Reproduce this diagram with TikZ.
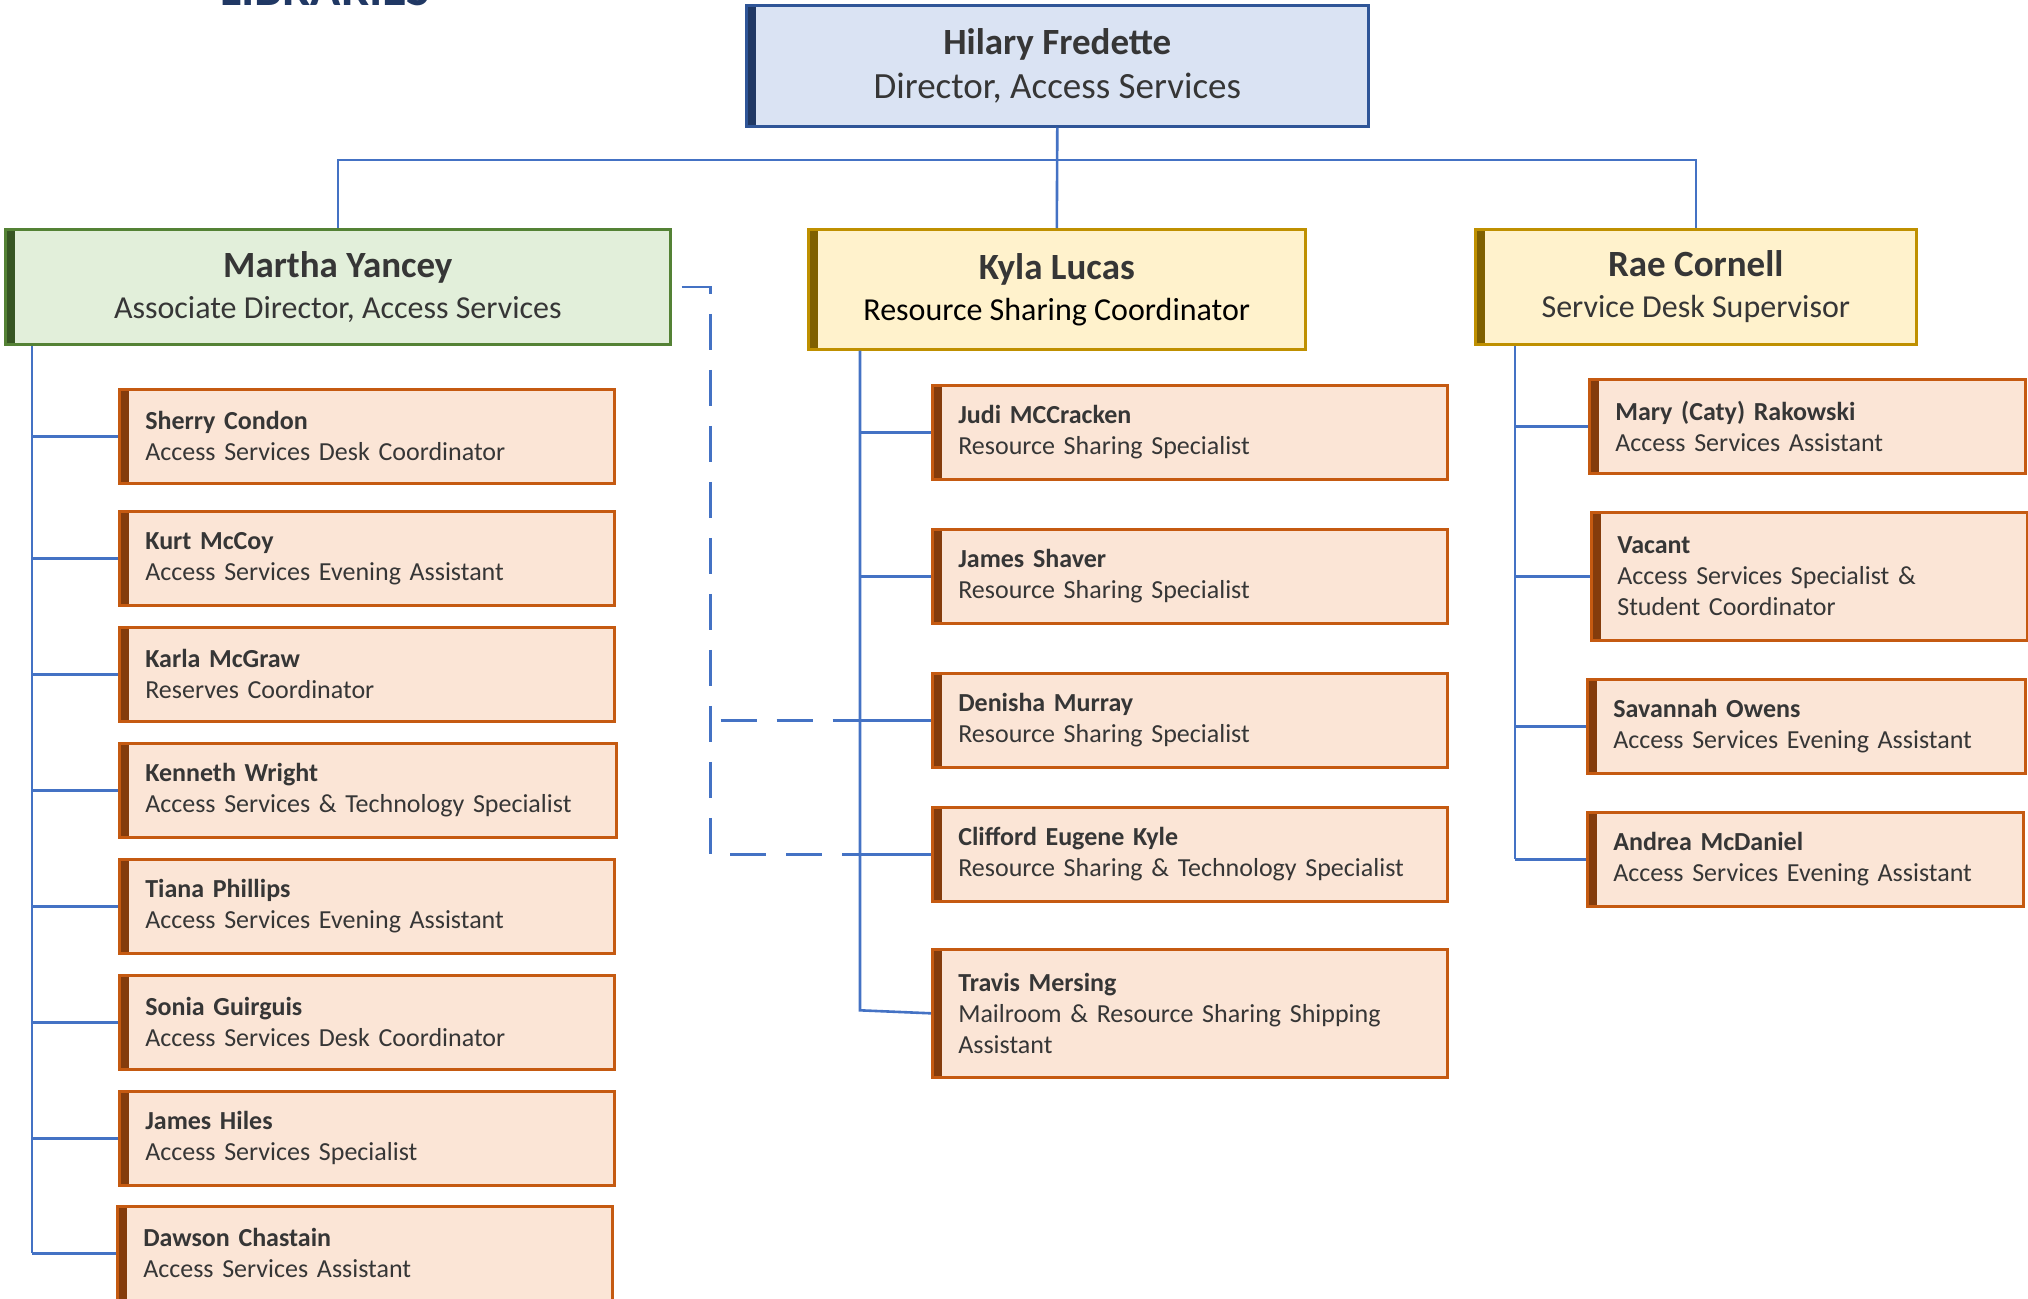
\documentclass[tikz,border=0pt]{standalone}
\usepackage{fontspec}
\setmainfont{Carlito}

\definecolor{wireblue}{HTML}{4472C4}
\definecolor{inkgrey}{HTML}{363636}
\definecolor{dirfill}{HTML}{DAE3F3}
\definecolor{dirline}{HTML}{2F5597}
\definecolor{dirbar}{HTML}{203864}
\definecolor{assocfill}{HTML}{E2EFDA}
\definecolor{assocline}{HTML}{548235}
\definecolor{assocbar}{HTML}{375623}
\definecolor{leadfill}{HTML}{FFF2CC}
\definecolor{leadline}{HTML}{BF9000}
\definecolor{leadbar}{HTML}{7F6000}
\definecolor{stafffill}{HTML}{FBE5D6}
\definecolor{staffline}{HTML}{C55A11}
\definecolor{staffbar}{HTML}{843C0C}

\tikzset{
	card/.style n args={3}{fill=#1, draw=#2, line width=1.3pt, anchor=north west, inner ysep=0pt,
		path picture={\fill[#3] (path picture bounding box.north west) rectangle ([xshift=5pt]path picture bounding box.south west);}},
	chief/.style={card={dirfill}{dirline}{dirbar}, minimum width=311pt, minimum height=60.5pt, align=center, text=inkgrey, font=\fontsize{18.5}{22}\selectfont},
	lead/.style n args={3}{card={#1}{#2}{#3}, minimum height=57.5pt, align=center, text=inkgrey, font=\fontsize{16}{20.5}\selectfont},
	staff/.style={card={stafffill}{staffline}{staffbar}, text width=#1, inner xsep=13pt, minimum height=47pt, align=left, text=inkgrey, font=\fontsize{13}{15.5}\selectfont},
	wire/.style={draw=wireblue, line width=1.3pt},
	dashwire/.style={wire, dash pattern=on 18pt off 10pt, dash phase=23pt}
}

\newcommand{\leadname}[1]{{\fontsize{18.5}{20.5}\selectfont\bfseries #1}}

\begin{document}
\begin{tikzpicture}[x=0.5pt, y=-0.5pt]
	\useasboundingbox (0,0) rectangle (2028,1298);

	\node[anchor=base west, text=dirbar, font=\fontsize{25}{25}\selectfont\bfseries] (logo) at (213,5) {LIBRARIES};

	\node[chief] (hilary) at (745,4) {\textbf{Hilary Fredette}\\Director, Access Services};
	\node[lead={assocfill}{assocline}{assocbar}, minimum width=332.5pt] (martha) at (4,228) {\leadname{Martha Yancey}\\Associate Director, Access Services};
	\node[lead={leadfill}{leadline}{leadbar}, minimum width=248.5pt, minimum height=60pt] (kyla) at (807,228) {\leadname{Kyla Lucas}\\\textcolor{black}{Resource Sharing Coordinator}};
	\node[lead={leadfill}{leadline}{leadbar}, minimum width=220.5pt] (rae) at (1474,228) {\leadname{Rae Cornell}\\Service Desk Supervisor};

	\node[staff=221.5pt] (sherry) at (118,388) {\textbf{Sherry Condon}\\Access Services Desk Coordinator};
	\node[staff=221.5pt] (kurt) at (118,510) {\textbf{Kurt McCoy}\\Access Services Evening Assistant};
	\node[staff=221.5pt] (karla) at (118,626) {\textbf{Karla McGraw}\\Reserves Coordinator};
	\node[staff=222.5pt] (kenneth) at (118,742) {\textbf{Kenneth Wright}\\Access Services \& Technology Specialist};
	\node[staff=221.5pt] (tiana) at (118,858) {\textbf{Tiana Phillips}\\Access Services Evening Assistant};
	\node[staff=221.5pt] (sonia) at (118,974) {\textbf{Sonia Guirguis}\\Access Services Desk Coordinator};
	\node[staff=221.5pt] (hiles) at (118,1090) {\textbf{James Hiles}\\Access Services Specialist};
	\node[staff=221.5pt] (dawson) at (116,1205) {\textbf{Dawson Chastain}\\Access Services Assistant};

	\node[staff=231.5pt] (judi) at (931,384) {\textbf{Judi MCCracken}\\Resource Sharing Specialist};
	\node[staff=231.5pt] (shaver) at (931,528) {\textbf{James Shaver}\\Resource Sharing Specialist};
	\node[staff=231.5pt] (denisha) at (931,672) {\textbf{Denisha Murray}\\Resource Sharing Specialist};
	\node[staff=231.5pt] (clifford) at (931,806) {\textbf{Clifford Eugene Kyle}\\Resource Sharing \& Technology Specialist};
	\node[staff=231.5pt, minimum height=64pt] (travis) at (931,948) {\textbf{Travis Mersing}\\Mailroom \& Resource Sharing Shipping\\Assistant};

	\node[staff=192pt] (mary) at (1588,378) {\textbf{Mary (Caty) Rakowski}\\Access Services Assistant};
	\node[staff=192pt, minimum height=64pt] (vacant) at (1590,511) {\textbf{Vacant}\\Access Services Specialist \&\\Student Coordinator};
	\node[staff=193pt] (savannah) at (1586,678) {\textbf{Savannah Owens}\\Access Services Evening Assistant};
	\node[staff=192pt] (andrea) at (1586,811) {\textbf{Andrea McDaniel}\\Access Services Evening Assistant};

	\coordinate (hub) at (hilary.south |- 0,160);
	\coordinate (mspine) at ([xshift=14pt]martha.south west);
	\coordinate (kspine) at ([xshift=26.5pt]kyla.south west);
	\coordinate (rspine) at ([xshift=20.5pt]rae.south west);
	\coordinate (dashx) at ([xshift=19.5pt]martha.east);

	\draw[wire] (hilary.south) -- (kyla.north);
	\draw[wire] (martha.north) |- (hub) -| (rae.north);

	\draw[wire] (mspine) -- (mspine |- dawson.west);
	\foreach \n in {sherry,kurt,karla,kenneth,tiana,sonia,hiles,dawson}
		\draw[wire] (mspine |- \n.west) -- (\n.west);

	\draw[wire] (kspine) -- ([yshift=1.5pt]kspine |- travis.west) -- (travis.west);
	\foreach \n in {judi,shaver,denisha,clifford}
		\draw[wire] (kspine |- \n.west) -- (\n.west);

	\draw[wire] (rspine) -- (rspine |- andrea.west);
	\foreach \n in {mary,vacant,savannah,andrea}
		\draw[wire] (rspine |- \n.west) -- (\n.west);

	\draw[dashwire] (martha.east) -- (dashx) -- (dashx |- clifford.west) -- (kspine |- clifford.west);
	\draw[dashwire] (dashx |- denisha.west) -- (kspine |- denisha.west);
\end{tikzpicture}
\end{document}
